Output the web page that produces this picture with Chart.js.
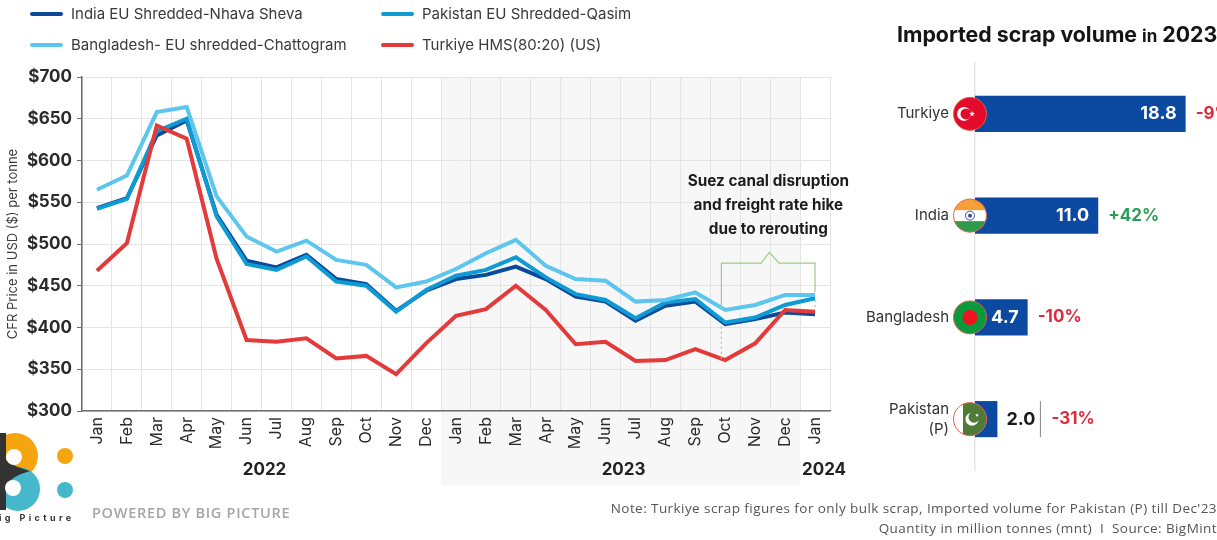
<!DOCTYPE html>
<html>
<head>
<meta charset="utf-8">
<title>Scrap prices and imported volume</title>
<script src="https://cdn.jsdelivr.net/npm/chart.js@4"></script>
<style>
  html,body{margin:0;padding:0;background:#fff;width:1217px;height:540px;overflow:hidden;font-family:Inter,sans-serif;}
  canvas{position:absolute;top:0;}
  #priceChart{left:0;}
  #volumeChart{left:860px;}
  .legendItem{position:absolute;font-size:15px;color:#3a3a3a;white-space:nowrap;line-height:18px;}
  .legendItem i{position:absolute;left:-41px;top:7px;width:33px;height:4px;border-radius:2px;}
  #volumeTitle{position:absolute;left:897px;top:19px;font-size:21.3px;font-weight:700;color:#151515;white-space:nowrap;line-height:30px;}
  #volumeTitle small{font-size:17px;}
  .note{position:absolute;right:0;font-family:"Open Sans",sans-serif;font-size:13.5px;letter-spacing:0.43px;color:#555;white-space:nowrap;line-height:18px;}
  #powered{position:absolute;left:92px;top:504px;font-family:"Open Sans",sans-serif;font-size:14.5px;letter-spacing:0.7px;font-weight:600;color:#a5a5a5;white-space:nowrap;line-height:18px;}
  #logoText{position:absolute;left:-1px;top:512px;font-size:9px;font-weight:700;letter-spacing:3.4px;color:#333;white-space:nowrap;line-height:12px;}
  svg{position:absolute;left:0;top:430px;}
</style>
</head>
<body>
<canvas id="priceChart" width="860" height="540"></canvas>
<canvas id="volumeChart" width="357" height="540"></canvas>
<div id="legend"></div>
<div id="volumeTitle">Imported scrap volume <small>in</small> 2023</div>
<svg width="80" height="85">
  <circle cx="15" cy="26" r="23" fill="#f5a50f"/>
  <circle cx="18" cy="59" r="22" fill="#46b8cb"/>
  <path d="M0 3 H6 V30 Q12 36 30 41 Q12 46 6 55 V80 H0 Z" fill="#333"/>
  <circle cx="14" cy="27" r="8" fill="#fff"/>
  <circle cx="13" cy="58" r="8" fill="#fff"/>
  <circle cx="65" cy="26" r="8" fill="#f5a50f"/>
  <circle cx="65" cy="60" r="8" fill="#46b8cb"/>
</svg>
<div id="logoText">ig Picture</div>
<div id="powered">POWERED BY BIG PICTURE</div>
<div class="note" style="top:499px">Note: Turkiye scrap figures for only bulk scrap, Imported volume for Pakistan (P) till Dec'23</div>
<div class="note" style="top:519px">Quantity in million tonnes (mnt)&nbsp; I &nbsp;Source: BigMint</div>

<script>
const months=["Jan","Feb","Mar","Apr","May","Jun","Jul","Aug","Sep","Oct","Nov","Dec","Jan","Feb","Mar","Apr","May","Jun","Jul","Aug","Sep","Oct","Nov","Dec","Jan"];
const indiaPrices=[543,555,630,648,535,480,472,487,458,452,420,444,458,463,473,458,437,431,408,426,431,404,410,418,416];
const pakistanPrices=[542,554,635,650,533,476,469,485,455,450,419,445,462,469,484,460,440,433,411,430,434,406,412,427,435];
const bangladeshPrices=[565,582,658,664,557,509,491,504,481,475,448,455,470,489,505,474,458,456,431,433,442,421,427,439,439];
const turkiyePrices=[468,501,642,626,482,385,383,387,363,366,344,381,414,422,450,421,380,383,360,361,374,361,381,421,419];
const yearLabels=["2022","2023","2024"];
const yearCentres=[5.6,17.6,24.3];
const noteLines=["Suez canal disruption","and freight rate hike","due to rerouting"];

const countries=["Turkiye","India","Bangladesh",["Pakistan","(P)"]];
const volumes=[18.8,11.0,4.7,2.0];
const volumeChanges=[-9,42,-10,-31];

const red="#e33a3a";
const darkBlue="#0b4a9a";
const midBlue="#0e9bd3";
const lightBlue="#5cc6ee";

// 2023 band behind the grid, runs down past the axis to the year label
const bandPlugin={
  id:"band",
  beforeDraw(chart){
    const {ctx,scales:{x},chartArea}=chart;
    const left=x.getPixelForValue(11.5);
    const right=x.getPixelForValue(23.5);
    ctx.save();
    ctx.fillStyle="#f7f7f7";
    ctx.fillRect(left,chartArea.top,right-left,485-chartArea.top);
    ctx.restore();
  }
};

const bracketX=[20.87,20.87,22.2,22.47,22.8,24,24];
const bracketY=[421,477,477,490,477,477,442];

const annotationPlugin={
  id:"annotation",
  afterDraw(chart){
    const {ctx,scales:{x,y}}=chart;
    ctx.save();
    ctx.strokeStyle="#a0cc82";
    ctx.lineWidth=1.2;
    ctx.beginPath();
    bracketX.forEach((v,i)=>{
      const px=x.getPixelForValue(v), py=y.getPixelForValue(bracketY[i]);
      if(i===0)ctx.moveTo(px,py); else ctx.lineTo(px,py);
    });
    ctx.stroke();
    ctx.setLineDash([2,3]);
    ctx.beginPath();
    ctx.moveTo(x.getPixelForValue(20.87),y.getPixelForValue(401));
    ctx.lineTo(x.getPixelForValue(20.87),y.getPixelForValue(360));
    ctx.moveTo(x.getPixelForValue(24),y.getPixelForValue(433));
    ctx.lineTo(x.getPixelForValue(24),y.getPixelForValue(424));
    ctx.stroke();
    ctx.setLineDash([]);

    ctx.fillStyle="#1c1c1c";
    ctx.textAlign="center";
    ctx.textBaseline="middle";
    ctx.font="700 15.3px Inter";
    noteLines.forEach((line,i)=>{
      ctx.fillText(line,x.getPixelForValue(22.44),y.getPixelForValue(575)+i*24);
    });

    ctx.font="700 17px Inter";
    ctx.fillStyle="#222";
    yearLabels.forEach((label,i)=>{
      ctx.fillText(label,x.getPixelForValue(yearCentres[i]),470);
    });
    ctx.restore();
  }
};

const priceSeries=[
  {label:"India EU Shredded-Nhava Sheva",data:indiaPrices,borderColor:darkBlue,order:4},
  {label:"Pakistan EU Shredded-Qasim",data:pakistanPrices,borderColor:midBlue,order:3},
  {label:"Bangladesh- EU shredded-Chattogram",data:bangladeshPrices,borderColor:lightBlue,order:2},
  {label:"Turkiye HMS(80:20) (US)",data:turkiyePrices,borderColor:red,order:1}
];

const priceChart=new Chart(document.getElementById("priceChart"),{
  type:"line",
  data:{
    labels:months,
    datasets:priceSeries.map(s=>({...s,backgroundColor:s.borderColor,borderWidth:4,pointRadius:0,tension:0,fill:false}))
  },
  plugins:[bandPlugin,annotationPlugin],
  options:{
    responsive:false,
    animation:false,
    layout:{padding:{top:77,right:30,left:0,bottom:0}},
    plugins:{legend:{display:false},tooltip:{enabled:false}},
    scales:{
      x:{
        offset:true,
        afterFit(scale){scale.height=129;},
        grid:{offset:true,color:"#e4e4e4",tickLength:0,lineWidth:1},
        border:{color:"#6f6f6f",width:1.5},
        ticks:{autoSkip:false,minRotation:90,maxRotation:90,padding:6,color:"#2b2b2b",font:{family:"Inter",size:16}}
      },
      y:{
        min:300,
        max:700,
        afterFit(scale){scale.width=82;},
        grid:{color:"#e4e4e4",tickColor:"#6f6f6f",tickLength:5,lineWidth:1},
        border:{color:"#6f6f6f",width:1.5},
        ticks:{stepSize:50,padding:5,color:"#2b2b2b",font:{family:"Inter",size:17,weight:"700"},callback:v=>"$"+v},
        title:{display:true,text:"CFR Price in USD ($) per tonne",color:"#3a3a3a",font:{family:"Inter",size:13},padding:{top:5,bottom:0}}
      }
    }
  }
});

// legend in two fixed columns, the chart.js one can't line the columns up
const legendSpots=[[71,5],[422,5],[71,36],[422,36]];
const legendEl=document.getElementById("legend");
priceChart.data.datasets.forEach((ds,i)=>{
  const item=document.createElement("div");
  item.className="legendItem";
  item.style.left=legendSpots[i][0]+"px";
  item.style.top=legendSpots[i][1]+"px";
  item.innerHTML=`<i style="background:${ds.borderColor}"></i>${ds.label}`;
  legendEl.appendChild(item);
});

function starAt(ctx,cx,cy,r){
  ctx.beginPath();
  for(let i=0;i<10;i++){
    const rad=i%2?r*0.42:r;
    const a=-Math.PI/2+i*Math.PI/5;
    ctx.lineTo(cx+rad*Math.cos(a),cy+rad*Math.sin(a));
  }
  ctx.closePath();
  ctx.fill();
}

const flagPainters=[
  (ctx,cx,cy)=>{
    ctx.fillStyle="#e30a2c";ctx.fillRect(cx-17,cy-17,34,34);
    ctx.fillStyle="#fff";ctx.beginPath();ctx.arc(cx-6,cy,7,0,Math.PI*2);ctx.fill();
    ctx.fillStyle="#e30a2c";ctx.beginPath();ctx.arc(cx-4,cy,5.5,0,Math.PI*2);ctx.fill();
    ctx.fillStyle="#fff";starAt(ctx,cx+2,cy,3);
  },
  (ctx,cx,cy)=>{
    ctx.fillStyle="#fff";ctx.fillRect(cx-17,cy-17,34,34);
    ctx.fillStyle="#f4a037";ctx.fillRect(cx-17,cy-17,34,11.5);
    ctx.fillStyle="#2f9a4c";ctx.fillRect(cx-17,cy+5.5,34,11.5);
    ctx.strokeStyle="#3b4a9c";ctx.lineWidth=1;ctx.beginPath();ctx.arc(cx,cy,4.5,0,Math.PI*2);ctx.stroke();
    ctx.fillStyle="#3b4a9c";ctx.beginPath();ctx.arc(cx,cy,2,0,Math.PI*2);ctx.fill();
  },
  (ctx,cx,cy)=>{
    ctx.fillStyle="#0a9a3e";ctx.fillRect(cx-17,cy-17,34,34);
    ctx.fillStyle="#f0141e";ctx.beginPath();ctx.arc(cx,cy,7.5,0,Math.PI*2);ctx.fill();
  },
  (ctx,cx,cy)=>{
    ctx.fillStyle="#fff";ctx.fillRect(cx-17,cy-17,34,34);
    ctx.fillStyle="#4f7a37";ctx.fillRect(cx-7,cy-17,24,34);
    ctx.fillStyle="#fff";ctx.beginPath();ctx.arc(cx+2,cy,6.5,0,Math.PI*2);ctx.fill();
    ctx.fillStyle="#4f7a37";ctx.beginPath();ctx.arc(cx+4,cy-2,5.5,0,Math.PI*2);ctx.fill();
    ctx.fillStyle="#fff";starAt(ctx,cx+7,cy-4,2);
  }
];

// flags on the axis, then the values and the yoy change beside each bar
const volumePlugin={
  id:"volumeLabels",
  afterDatasetsDraw(chart){
    const {ctx,scales:{x,y}}=chart;
    const base=x.getPixelForValue(0);
    volumes.forEach((v,i)=>{
      const cy=y.getPixelForValue(i);
      const end=x.getPixelForValue(v);
      const cx=base-5;
      ctx.save();
      ctx.beginPath();
      ctx.arc(cx,cy,16.5,0,Math.PI*2);
      ctx.clip();
      flagPainters[i](ctx,cx,cy);
      ctx.restore();
      ctx.save();
      ctx.strokeStyle="#e2603f";
      ctx.lineWidth=1;
      ctx.beginPath();
      ctx.arc(cx,cy,16.5,0,Math.PI*2);
      ctx.stroke();

      ctx.textBaseline="middle";
      ctx.font="700 18px Inter";
      let changeX=end+10;
      if(v>3){
        ctx.fillStyle="#fff";
        ctx.textAlign="right";
        ctx.fillText(v.toFixed(1),end-9,cy);
      }else{
        ctx.fillStyle="#1a1a1a";
        ctx.textAlign="left";
        ctx.fillText(v.toFixed(1),end+9,cy);
        ctx.strokeStyle="#888";
        ctx.lineWidth=1;
        ctx.beginPath();
        ctx.moveTo(end+43,cy-18);
        ctx.lineTo(end+43,cy+18);
        ctx.stroke();
        changeX=end+54;
      }
      const change=volumeChanges[i];
      ctx.font="700 17px Inter";
      ctx.fillStyle=change<0?"#dc2b3b":"#2a9d57";
      ctx.textAlign="left";
      ctx.fillText((change>0?"+":"")+change+"%",changeX,cy);
      ctx.restore();
    });
  }
};

new Chart(document.getElementById("volumeChart"),{
  type:"bar",
  data:{
    labels:countries,
    datasets:[{data:volumes,backgroundColor:"#0b4aa0",barPercentage:0.355,categoryPercentage:1}]
  },
  plugins:[volumePlugin],
  options:{
    indexAxis:"y",
    responsive:false,
    animation:false,
    layout:{padding:{top:63,bottom:70,left:0,right:0}},
    plugins:{legend:{display:false},tooltip:{enabled:false}},
    scales:{
      x:{display:false,min:0,max:21.6},
      y:{
        afterFit(scale){scale.width=115;},
        grid:{display:false,tickLength:0},
        border:{color:"#e3e6ea",width:1.5},
        ticks:{padding:26,color:"#333",font:{family:"Inter",size:15,lineHeight:1.35}}
      }
    }
  }
});
</script>
</body>
</html>
